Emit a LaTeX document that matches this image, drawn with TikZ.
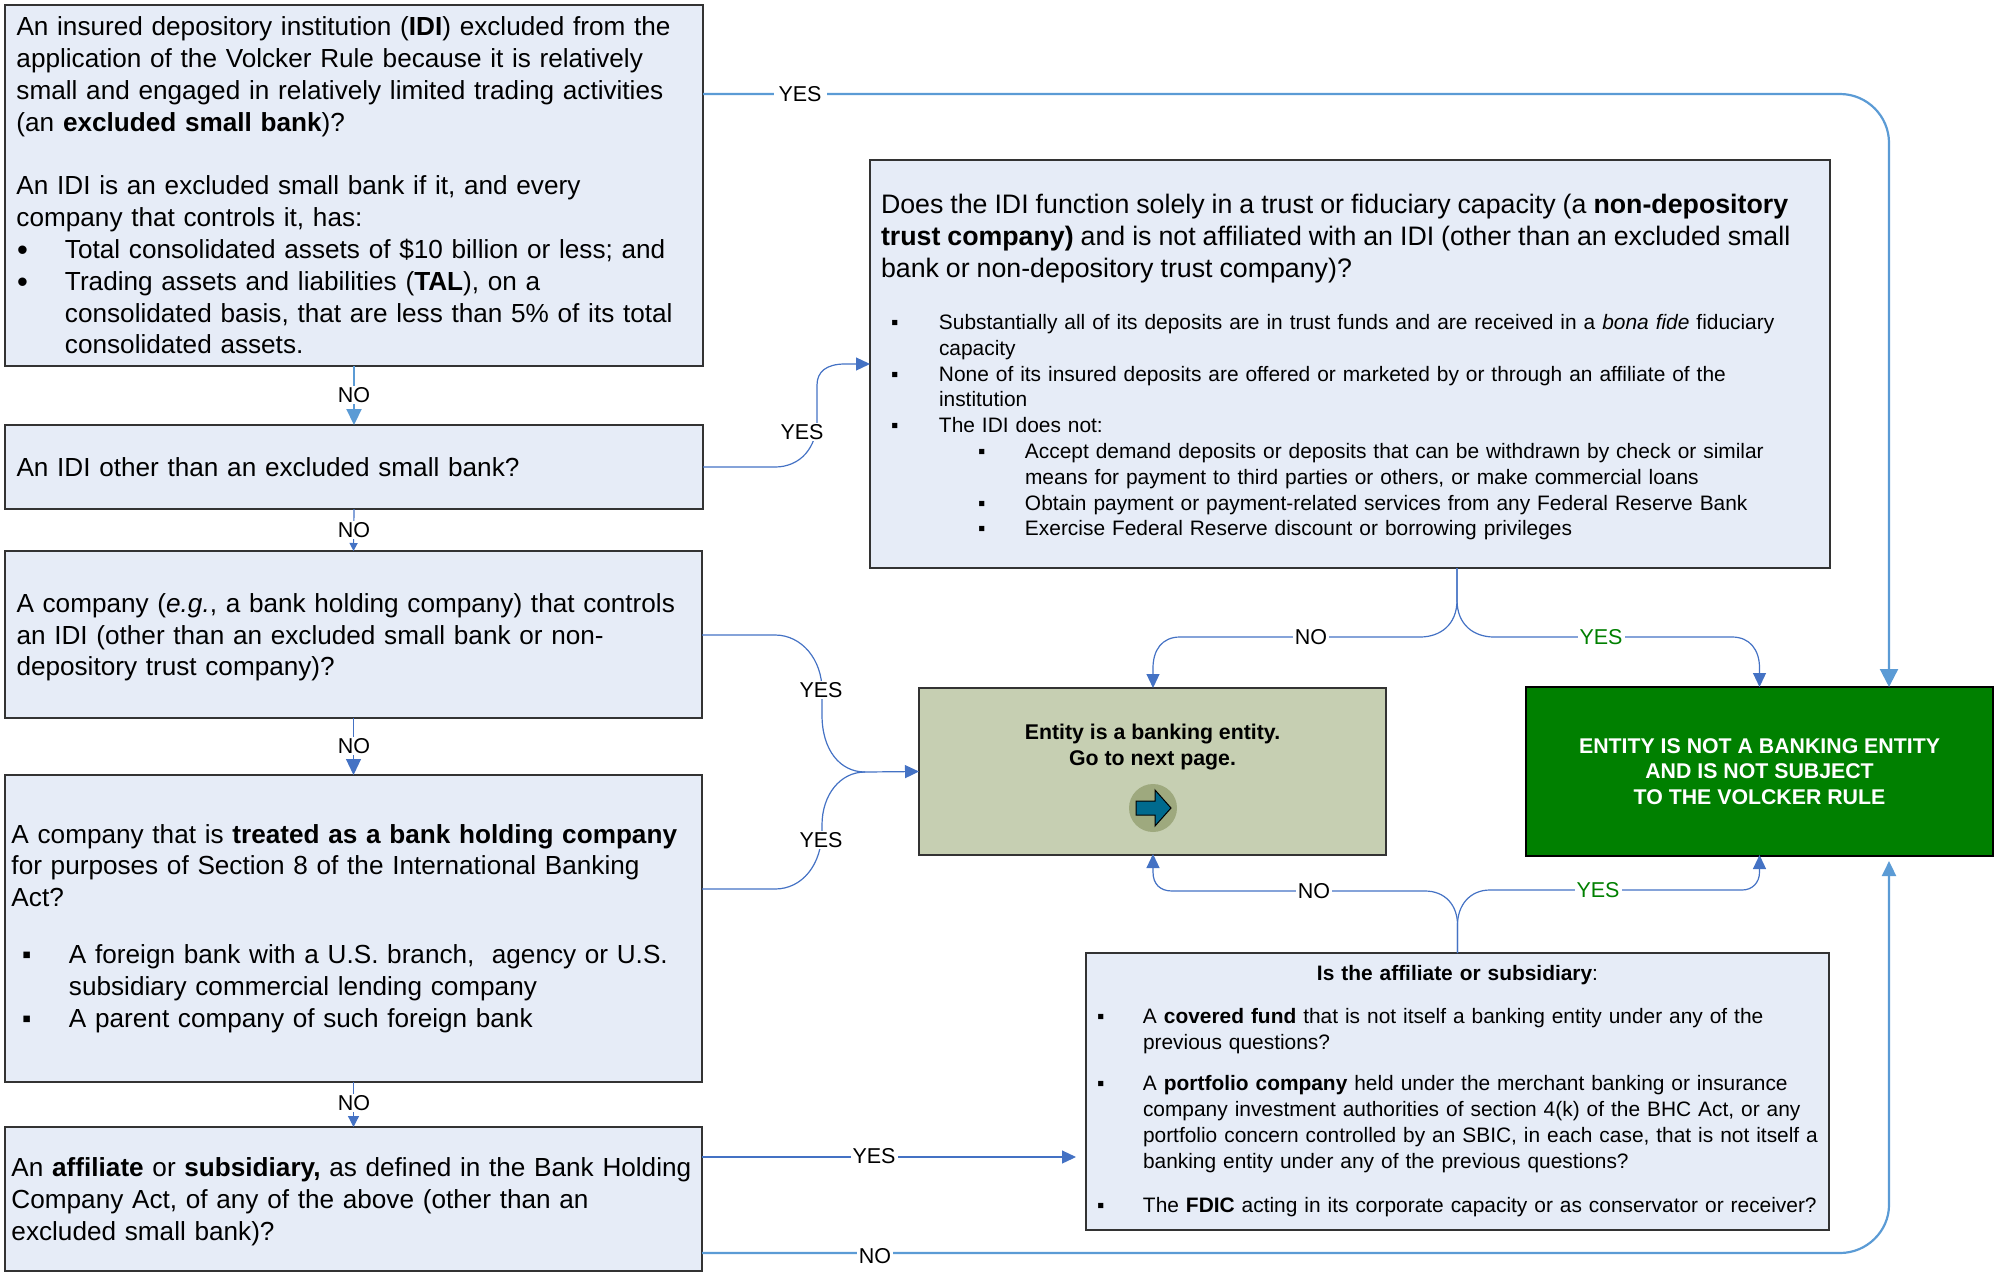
\documentclass[tikz,border=0pt]{standalone}
\usepackage{fontspec}
\setmainfont{Liberation Sans}
\usetikzlibrary{arrows.meta,calc}
\definecolor{boxfill}{HTML}{E6ECF7}
\definecolor{oliveb}{HTML}{C6CFB2}
\definecolor{olivec}{HTML}{9EA97E}
\definecolor{lineb}{HTML}{4472C4}
\definecolor{linec}{HTML}{5B9BD5}
\definecolor{darkg}{HTML}{008000}
\definecolor{arrowb}{HTML}{006A8E}
\newcommand\ind[1]{\hspace*{#1pt}}
\newcommand\bul[3]{\hspace*{#1pt}\makebox[#2pt][l]{#3}}
\newcommand\sq{▪}
\newcommand\dotb{{\fontsize{31}{31.8}\selectfont\raisebox{-2pt}{•}}}
\newcommand\bigfont{\fontsize{26.15}{31.8}\selectfont}
\newcommand\titlefont{\fontsize{26.75}{31.8}\selectfont}
\newcommand\smallfont{\fontsize{20.9}{25.8}\selectfont}
\newcommand\boldfont{\fontsize{21.3}{25.8}\selectfont\bfseries}
\tikzset{
  x=1pt,y=-1pt,
  qbox/.style={draw=black!80,line width=1.2pt,fill=boxfill,inner xsep=2pt,inner ysep=0pt,outer sep=0pt,align=left},
  big/.style={font=\bigfont},
  small/.style={font=\smallfont},
  cn/.style={draw=lineb,line width=1.2pt},
  cnl/.style={draw=linec,line width=2.2pt},
  lab/.style={font=\fontsize{21.5}{24}\selectfont,fill=white,inner xsep=2pt,inner ysep=1pt},
  labg/.style={lab,text=darkg},
  tipA/.style={-{Triangle[length=16pt,width=15pt]}},
  tipC/.style={-{Triangle[length=18pt,width=18pt]}},
  tipB/.style={-{Triangle[length=14pt,width=13pt]}}
}
\begin{document}
\begin{tikzpicture}
\useasboundingbox (0,0) rectangle (1996,1274);

\node[qbox,big,minimum width=698pt,minimum height=361pt,text width=694pt] (b1) at (354,185.5) {%
\ind{9.5}An insured depository institution (\textbf{IDI}) excluded from the\\
\ind{9.5}application of the Volcker Rule because it is relatively\\
\ind{9.5}small and engaged in relatively limited trading activities\\
\ind{9.5}(an \textbf{excluded small bank})?\\[31.8pt]
\ind{9.5}An IDI is an excluded small bank if it, and every\\
\ind{9.5}company that controls it, has:\\
\bul{10}{48}{\dotb}Total consolidated assets of \$10 billion or less; and\\
\bul{10}{48}{\dotb}Trading assets and liabilities (\textbf{TAL}), on a\\
\ind{58}consolidated basis, that are less than 5\% of its total\\
\ind{58}consolidated assets.};

\node[qbox,big,minimum width=698pt,minimum height=84pt,text width=694pt] (b2) at (354,467) {%
\ind{9.5}An IDI other than an excluded small bank?};

\node[qbox,big,minimum width=697pt,minimum height=167pt,text width=693pt] (b3) at (353.5,634.5) {%
\rule{0pt}{24.5pt}\ind{9.5}A company (\textit{e.g.}, a bank holding company) that controls\\
\ind{9.5}an IDI (other than an excluded small bank or non-\\
\ind{9.5}depository trust company)?};

\node[qbox,big,minimum width=697pt,minimum height=307pt,text width=693pt] (b4) at (353.5,928.5) {%
\ind{4.5}A company that is \textbf{treated as a bank holding company}\\
\ind{4.5}for purposes of Section 8 of the International Banking\\
\ind{4.5}Act?\\[25.5pt]
\bul{15}{47}{\sq}A foreign bank with a U.S. branch,\ \ agency or U.S.\\
\ind{62}subsidiary commercial lending company\\
\bul{15}{47}{\sq}A parent company of such foreign bank};

\node[qbox,big,minimum width=697pt,minimum height=144pt,text width=693pt] (b5) at (353.5,1199) {%
\rule{0pt}{24.5pt}\ind{4.5}An \textbf{affiliate} or \textbf{subsidiary,} as defined in the Bank Holding\\
\ind{4.5}Company Act, of any of the above (other than an\\
\ind{4.5}excluded small bank)?};

\node[qbox,minimum width=960pt,minimum height=408pt,text width=956pt,font=\smallfont] (t) at (1350,364) {%
{\titlefont\rule{0pt}{26pt}%
\ind{9}Does the IDI function solely in a trust or fiduciary capacity (a \textbf{non-depository}\\
\ind{9}\textbf{trust company)} and is not affiliated with an IDI (other than an excluded small\\
\ind{9}bank or non-depository trust company)?\\[26.2pt]}
\bul{19}{48}{\sq}Substantially all of its deposits are in trust funds and are received in a \textit{bona fide} fiduciary\\
\ind{67}capacity\\
\bul{19}{48}{\sq}None of its insured deposits are offered or marketed by or through an affiliate of the\\
\ind{67}institution\\
\bul{19}{48}{\sq}The IDI does not:\\
\bul{106}{47}{\sq}Accept demand deposits or deposits that can be withdrawn by check or similar\\
\ind{153}means for payment to third parties or others, or make commercial loans\\
\bul{106}{47}{\sq}Obtain payment or payment-related services from any Federal Reserve Bank\\
\bul{106}{47}{\sq}Exercise Federal Reserve discount or borrowing privileges};

\node[qbox,small,minimum width=743pt,minimum height=277pt,text width=739pt] (s) at (1457.5,1091.5) {%
\makebox[739pt][c]{\textbf{Is the affiliate or subsidiary}:}\\[17pt]
\bul{9}{46}{\sq}A \textbf{covered fund} that is not itself a banking entity under any of the\\
\ind{55}previous questions?\\[15.5pt]
\bul{9}{46}{\sq}A \textbf{portfolio company} held under the merchant banking or insurance\\
\ind{55}company investment authorities of section 4(k) of the BHC Act, or any\\
\ind{55}portfolio concern controlled by an SBIC, in each case, that is not itself a\\
\ind{55}banking entity under any of the previous questions?\\[19pt]
\bul{9}{46}{\sq}The \textbf{FDIC} acting in its corporate capacity or as conservator or receiver?};

\node[draw=black!80,line width=1.2pt,fill=oliveb,outer sep=0pt,inner sep=0pt,minimum width=467pt,minimum height=167pt,align=center,font=\boldfont] (ok) at (1152.5,771.5) {Entity is a banking entity.\\Go to next page.\\[27.5pt]\mbox{}};

\node[draw=black,line width=1.2pt,fill=darkg,outer sep=0pt,inner sep=0pt,minimum width=467pt,minimum height=169pt,align=center,font=\boldfont,text=white] (no) at (1759.5,771.5) {ENTITY IS NOT A BANKING ENTITY\\AND IS NOT SUBJECT\\TO THE VOLCKER RULE};

\fill[olivec] (1153,808) circle (24);
\draw[fill=arrowb,line width=1pt,line join=miter] (1136,801) -- (1155,801) -- (1155,790) -- (1171,808) -- (1155,826) -- (1155,815) -- (1136,815) -- cycle;

% connectors
\draw[cnl,tipA] (b1.south) -- (b2.north);
\draw[cn,-{Triangle[length=8pt,width=8pt]}] (b2.south) -- (b3.north);
\draw[cn,tipA] (b3.south) -- (b4.north);
\draw[cn,-{Triangle[length=11pt,width=11pt]}] (b4.south) -- (b5.north);

\draw[cnl,tipC] ([yshift=-89pt]b1.north east) -- (1840,94) .. controls (1867,94) and (1889,116) .. (1889,143) -- ([xshift=129.5pt]no.north);
\draw[cnl,-{Triangle[length=15pt,width=14pt]}] ([yshift=-126pt]b5.north east) -- (1840,1253) .. controls (1867,1253) and (1889,1231) .. (1889,1205) -- ([xshift=129.5pt,yshift=-5pt]no.south);

\draw[cn,tipB] (b2.east) -- (775,467) .. controls (800,467) and (817,448) .. (817,420) -- (817,385) .. controls (817,372) and (826,364) .. (845,364) -- ([yshift=-204pt]t.north west);

\draw[cn] ([yshift=-84pt]b3.north east) -- (775,635) .. controls (802,635) and (822,660) .. (822,690) -- (822,715) .. controls (822,750) and (840,772) .. (865,772);
\draw[cn] ([yshift=-114pt]b4.north east) -- (775,889) .. controls (802,889) and (822,865) .. (822,830) -- (822,825) .. controls (822,795) and (840,772) .. (865,772);
\coordinate (merge) at (865,772);
\draw[cn,tipB] (merge) -- (ok.west);

\draw[cn,-{Triangle[length=14pt,width=13pt]}] ([yshift=-30pt]b5.north east) -- ([yshift=-204pt,xshift=-10pt]s.north west);

\draw[cn,tipB] ([xshift=107pt]t.south) -- (1457,600) .. controls (1457,625) and (1440,637) .. (1420,637) -- (1180,637) .. controls (1162,637) and (1153,650) .. (1153,668) -- ([xshift=0.5pt]ok.north);
\draw[cn,tipB] ([xshift=107pt]t.south) -- (1457,600) .. controls (1457,625) and (1474,637) .. (1494,637) -- (1732,637) .. controls (1750,637) and (1759.5,650) .. (1759.5,668) -- (no.north);

\draw[cn,tipB] (s.north) -- (1457.5,925) .. controls (1457.5,905) and (1445,891) .. (1425,891) -- (1172,891) .. controls (1160,891) and (1153,884) .. (1153,872) -- ([xshift=0.5pt,yshift=1pt]ok.south);
\draw[cn,tipB] (s.north) -- (1457.5,925) .. controls (1457.5,905) and (1470,890) .. (1490,890) -- (1742,890) .. controls (1752,890) and (1759.5,883) .. (1759.5,872) -- ([yshift=1pt]no.south);

% labels
\node[lab,inner xsep=5pt] (l1) at (800,94) {YES};
\node[lab] (l2) at (354,395) {NO};
\node[lab] (l3) at (354,530) {NO};
\node[lab] (l4) at (354,746) {NO};
\node[lab] (l5) at (354,1103) {NO};
\node[lab] (l6) at (802,432) {YES};
\node[lab] (l7) at (821,690) {YES};
\node[lab] (l8) at (821,840) {YES};
\node[lab] (l9) at (874,1156) {YES};
\node[lab] (l10) at (875,1256) {NO};
\node[lab] (l11) at (1311,637) {NO};
\node[labg] (l12) at (1601,637) {YES};
\node[lab] (l13) at (1314,891) {NO};
\node[labg] (l14) at (1598,890) {YES};
\end{tikzpicture}
\end{document}
